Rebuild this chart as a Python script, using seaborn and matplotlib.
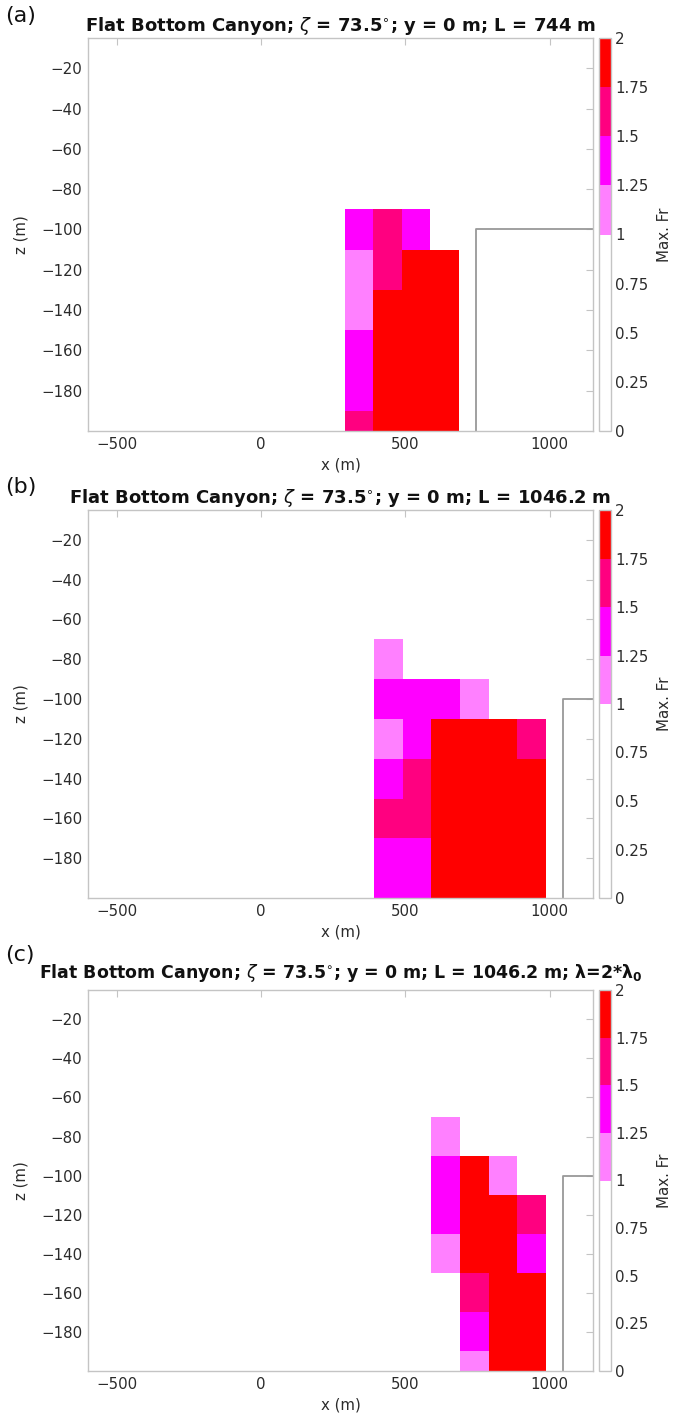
import numpy as np
import matplotlib
matplotlib.use("Agg")
import matplotlib.pyplot as plt
from matplotlib.colors import ListedColormap, BoundaryNorm
from matplotlib.cm import ScalarMappable
import seaborn as sns

sns.set_theme(style="white")
plt.rcParams['font.family'] = ['DejaVu Sans']
plt.rcParams['mathtext.fontset'] = 'dejavusans'

nan = np.nan

# ---------------- data ----------------
# row edges in depth (m), top to bottom
z_edges = [-70, -90, -110, -130, -150, -170, -190, -210]

# panel (a)
x_edges_a = [290, 389, 487, 585, 685]
fr_a = [
    [nan,  nan,  nan,  nan],
    [1.38, 1.62, 1.40, nan],
    [1.12, 1.60, 1.90, 1.85],
    [1.15, 1.85, 1.95, 1.90],
    [1.35, 1.92, 1.97, 1.88],
    [1.40, 1.95, 1.98, 1.86],
    [1.60, 1.90, 1.95, 1.84],
]
L_a = 744

# panel (b)
x_edges_b = [392, 491, 590, 688, 788, 887, 986]
fr_b = [
    [1.12, nan,  nan,  nan,  nan,  nan],
    [1.35, 1.40, 1.45, 1.20, nan,  nan],
    [1.15, 1.38, 1.85, 1.90, 1.88, 1.60],
    [1.30, 1.58, 1.95, 1.96, 1.92, 1.80],
    [1.55, 1.65, 1.97, 1.98, 1.95, 1.85],
    [1.40, 1.42, 1.96, 1.97, 1.94, 1.86],
    [1.38, 1.45, 1.95, 1.96, 1.93, 1.85],
]
L_b = 1046.2

# panel (c)
x_edges_c = [590, 689, 788, 887, 986]
fr_c = [
    [1.15, nan,  nan,  nan],
    [1.35, 1.80, 1.20, nan],
    [1.40, 1.90, 1.85, 1.60],
    [1.18, 1.88, 1.90, 1.35],
    [nan,  1.62, 1.92, 1.82],
    [nan,  1.40, 1.95, 1.86],
    [nan,  1.15, 1.93, 1.84],
]
L_c = 1046.2

shelf_depth = -100
bottom_depth = -200

titles = [
    r'Flat Bottom Canyon; $\zeta$ = 73.5$^{\circ}$; y = 0 m; L = 744 m',
    r'Flat Bottom Canyon; $\zeta$ = 73.5$^{\circ}$; y = 0 m; L = 1046.2 m',
    r'Flat Bottom Canyon; $\zeta$ = 73.5$^{\circ}$; y = 0 m; L = 1046.2 m; λ=2*λ$_{\mathbf{0}}$',
]
panel_labels = ['(a)', '(b)', '(c)']
x_ticks = [-500, 0, 500, 1000]
z_ticks = [-20, -40, -60, -80, -100, -120, -140, -160, -180]
cbar_ticks = [0, 0.25, 0.5, 0.75, 1, 1.25, 1.5, 1.75, 2]
cbar_ticklabels = ['0', '0.25', '0.5', '0.75', '1', '1.25', '1.5', '1.75', '2']

# ---------------- style ----------------
W, H = 673, 1421
fig = plt.figure(figsize=(W / 100, H / 100), dpi=100)

colors = ['#ffffff', '#ffffff', '#ffffff', '#ffffff',
          '#ff80ff', '#ff00ff', '#ff0080', '#ff0000']
cmap = ListedColormap(colors)
cmap.set_over('#ff0000')
norm = BoundaryNorm(cbar_ticks, cmap.N)

spine_col = '#c4c4c4'
text_col = '#2b2b2b'
xlim = (-600, 1150)
ylim = (-200, -5)

# pixel boxes (top, bottom) for the three axes
boxes = [(38, 431), (510, 898), (990, 1371)]
label_y = [16, 487, 955]
title_size = [13, 13, 12.5]
title_pad = [5, 5, 9]
ax_left, ax_right = 88, 593
cb_left, cb_right = 599, 611

panels = [(x_edges_a, fr_a, L_a), (x_edges_b, fr_b, L_b), (x_edges_c, fr_c, L_c)]

for i, ((xe, fr, L), (top, bot)) in enumerate(zip(panels, boxes)):
    ax = fig.add_axes([ax_left / W, 1 - bot / H, (ax_right - ax_left) / W, (bot - top) / H])
    ax.pcolormesh(xe, z_edges, np.array(fr), cmap=cmap, norm=norm)
    sns.lineplot(x=[L, L, xlim[1]], y=[bottom_depth, shelf_depth, shelf_depth],
                 sort=False, estimator=None, color='#999999', lw=1.3, ax=ax)
    ax.set_xlim(*xlim)
    ax.set_ylim(*ylim)
    ax.set_xticks(x_ticks)
    ax.set_yticks(z_ticks)
    ax.tick_params(direction='in', top=True, right=True, length=5, width=0.8,
                   color=spine_col, labelcolor=text_col, labelsize=10.8, pad=4)
    for s in ax.spines.values():
        s.set_color(spine_col)
        s.set_linewidth(1.0)
    ax.set_xlabel('x (m)', fontsize=10.8, color=text_col, labelpad=4)
    ax.set_ylabel('z (m)', fontsize=10.8, color=text_col, labelpad=9)
    ax.set_title(titles[i], fontsize=title_size[i], fontweight='bold', color='#111111',
                 pad=title_pad[i])
    fig.text(5 / W, 1 - label_y[i] / H, panel_labels[i], fontsize=16, color='#111111',
             ha='left', va='center')

    cax = fig.add_axes([cb_left / W, 1 - bot / H, (cb_right - cb_left) / W, (bot - top) / H])
    sm = ScalarMappable(norm=norm, cmap=cmap)
    cb = fig.colorbar(sm, cax=cax, ticks=cbar_ticks)
    cb.ax.set_yticklabels(cbar_ticklabels)
    cb.ax.tick_params(length=0, labelsize=10.8, labelcolor=text_col, pad=3)
    cb.outline.set_edgecolor(spine_col)
    cb.outline.set_linewidth(1.0)
    cb.set_label('Max. Fr', fontsize=10.8, color=text_col, labelpad=6)

fig.savefig('out.png', dpi=100)
